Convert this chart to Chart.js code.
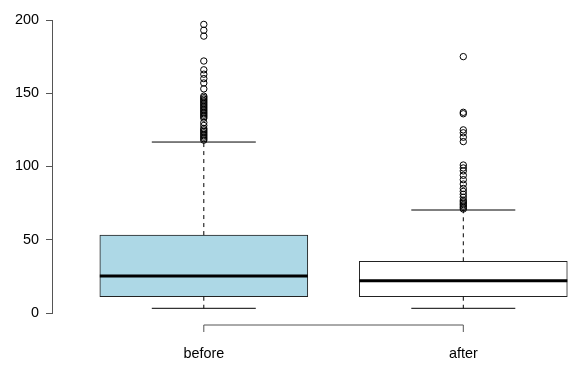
<!DOCTYPE html>
<html>
<head>
<meta charset="utf-8">
<script src="https://cdn.jsdelivr.net/npm/chart.js@4"></script>
<style>
  html, body { margin: 0; padding: 0; background: #fff; }
  #wrap { width: 579px; height: 371px; }
</style>
</head>
<body>
<div id="wrap"><canvas id="chart1"></canvas></div>
<script>
const categories = ['before', 'after'];
const whiskerLow = [3.2, 3.2];
const q1 = [11.1, 11.1];
const medians = [25.3, 22];
const q3 = [53.2, 35.3];
const whiskerHigh = [116.7, 70.3];
const beforeOutliers = [197, 193, 189, 172, 166, 163, 160, 157, 153, 148, 147, 146, 145, 144, 143, 142, 141, 140, 139, 138, 137, 136, 135, 134, 133, 130, 128, 126, 125, 124, 123, 122, 121, 120, 119, 118];
const afterOutliers = [175, 137, 136, 125, 123, 120, 117, 101, 99, 97, 94, 91, 88, 85, 83, 81, 79, 77, 76, 75, 74, 73, 72, 71];
const yTicks = [0, 50, 100, 150, 200];

const boxColors = ['#add8e6', '#ffffff'];
const font = { family: '"Liberation Sans", Arial, sans-serif', size: 14.4 };

const outlierPoints = [];
beforeOutliers.forEach(v => outlierPoints.push({ x: 1, y: v }));
afterOutliers.forEach(v => outlierPoints.push({ x: 2, y: v }));

// median, whiskers and the short x axis line
const boxExtras = {
  id: 'boxExtras',
  afterDatasetsDraw(chart) {
    const ctx = chart.ctx;
    const x = chart.scales.x;
    const y = chart.scales.y;
    const bars = chart.getDatasetMeta(0).data;
    ctx.save();
    ctx.strokeStyle = '#000';
    bars.forEach((bar, i) => {
      const cx = bar.x;
      const half = bar.width / 2;
      // dashed whiskers
      ctx.lineWidth = 1;
      ctx.setLineDash([4, 4]);
      ctx.beginPath();
      ctx.moveTo(cx, y.getPixelForValue(q3[i]));
      ctx.lineTo(cx, y.getPixelForValue(whiskerHigh[i]));
      ctx.moveTo(cx, y.getPixelForValue(q1[i]));
      ctx.lineTo(cx, y.getPixelForValue(whiskerLow[i]));
      ctx.stroke();
      ctx.setLineDash([]);
      // caps
      ctx.beginPath();
      ctx.moveTo(cx - half / 2, y.getPixelForValue(whiskerHigh[i]));
      ctx.lineTo(cx + half / 2, y.getPixelForValue(whiskerHigh[i]));
      ctx.moveTo(cx - half / 2, y.getPixelForValue(whiskerLow[i]));
      ctx.lineTo(cx + half / 2, y.getPixelForValue(whiskerLow[i]));
      ctx.stroke();
      // median
      ctx.lineWidth = 3;
      ctx.beginPath();
      ctx.moveTo(cx - half, y.getPixelForValue(medians[i]));
      ctx.lineTo(cx + half, y.getPixelForValue(medians[i]));
      ctx.stroke();
    });
    // x axis: from first to last box, ticks pointing down
    const x1 = x.getPixelForValue(1);
    const x2 = x.getPixelForValue(categories.length);
    const ay = y.bottom + 12;
    ctx.strokeStyle = '#555';
    ctx.lineWidth = 1;
    ctx.beginPath();
    ctx.moveTo(x1, ay + 7);
    ctx.lineTo(x1, ay);
    ctx.lineTo(x2, ay);
    ctx.lineTo(x2, ay + 7);
    ctx.stroke();
    ctx.restore();
  }
};

const ctx1 = document.getElementById('chart1');
new Chart(ctx1, {
  data: {
    datasets: [{
      type: 'bar',
      data: categories.map((c, i) => ({ x: i + 1, y: [q1[i], q3[i]] })),
      backgroundColor: boxColors,
      borderColor: '#222',
      borderWidth: 1,
      borderSkipped: false,
      barThickness: 208,
      order: 2
    }, {
      type: 'scatter',
      data: outlierPoints,
      pointRadius: 3.2,
      pointBorderWidth: 1,
      pointBorderColor: '#000',
      pointBackgroundColor: 'rgba(0,0,0,0)',
      order: 1
    }]
  },
  options: {
    responsive: true,
    maintainAspectRatio: false,
    animation: false,
    layout: { padding: { top: 20, left: 0, right: 0, bottom: 0 } },
    plugins: { legend: { display: false }, tooltip: { enabled: false } },
    scales: {
      x: {
        type: 'linear',
        offset: false,
        min: 0.415,
        max: 2.4266,
        grid: { display: false, drawTicks: false, offset: false },
        border: { display: false },
        afterBuildTicks: axis => { axis.ticks = categories.map((c, i) => ({ value: i + 1 })); },
        afterFit: axis => { axis.height = 58; },
        ticks: {
          color: '#000',
          font: font,
          padding: 32,
          maxRotation: 0,
          callback: v => categories[v - 1]
        }
      },
      y: {
        min: 0,
        max: 200,
        afterBuildTicks: axis => { axis.ticks = yTicks.map(v => ({ value: v })); },
        afterFit: axis => { axis.width = 52; },
        grid: { drawOnChartArea: false, drawTicks: true, tickLength: 6, color: '#555' },
        border: { display: true, color: '#555', width: 1 },
        ticks: { color: '#000', font: font, padding: 7 }
      }
    }
  },
  plugins: [boxExtras]
});
</script>
</body>
</html>
